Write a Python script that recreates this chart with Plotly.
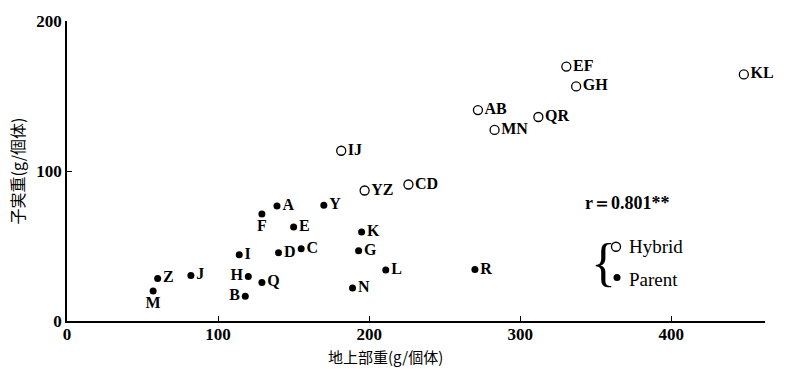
import plotly.graph_objects as go

# Hybrid (open circles)
hyb_labels = ["EF", "GH", "KL", "AB", "QR", "MN", "IJ", "YZ", "CD"]
hyb_x = [330.5, 337, 448, 272, 312, 283, 181.5, 197, 226]
hyb_y = [169.6, 156.4, 164.4, 140.6, 136, 127.4, 113.5, 87, 91]

# Parent (filled circles)
par_labels = ["A", "Y", "F", "E", "K", "I", "D", "C", "G", "H", "Q", "B", "Z", "J", "M", "L", "N", "R"]
par_x = [139, 170, 129, 150, 195, 114, 140, 155, 193, 120, 129, 118, 60, 82, 57, 211, 189, 270]
par_y = [76.6, 77.2, 71.3, 62.7, 59.4, 44.2, 45.5, 48.2, 46.9, 29.7, 25.7, 16.5, 28.4, 30.4, 20, 34, 22, 34.3]
par_pos = ["middle right", "middle right", "bottom center", "middle right", "middle right",
           "middle right", "middle right", "middle right", "middle right", "middle left",
           "middle right", "middle left", "middle right", "middle right", "bottom center",
           "middle right", "middle right", "middle right"]

x_ticks = [0, 100, 200, 300, 400]
y_ticks = [0, 100, 200]

serif = "Liberation Serif"
cjk = "Noto Sans CJK JP"

fig = go.Figure()
fig.add_trace(go.Scatter(
    x=hyb_x, y=hyb_y, mode="markers+text", text=hyb_labels, textposition="middle right",
    marker=dict(symbol="circle-open", size=9, color="black", line=dict(width=1.3)),
    textfont=dict(family=serif, size=16, color="black", weight="bold"),
    showlegend=False, cliponaxis=False))
fig.add_trace(go.Scatter(
    x=par_x, y=par_y, mode="markers+text", text=par_labels, textposition=par_pos,
    marker=dict(symbol="circle", size=7, color="black"),
    textfont=dict(family=serif, size=16, color="black", weight="bold"),
    showlegend=False, cliponaxis=False))

L, R, T, B = 67, 22, 18, 48
W, H = 787, 369
pw, ph = W - L - R, H - T - B


def px(x):
    return (x - L) / pw


def py(y):
    return (H - B - y) / ph


ann = [
    dict(x=px(385), y=py(357), text="地上部重(g/個体)", font=dict(family=cjk, size=15)),
    dict(x=px(583), y=py(202), text="r＝0.801**", xanchor="left",
         font=dict(family=serif, size=18, weight="bold")),
    dict(x=px(627), y=py(246), text="Hybrid", xanchor="left", font=dict(family=serif, size=19)),
    dict(x=px(627), y=py(279), text="Parent", xanchor="left", font=dict(family=serif, size=19)),
    dict(x=px(603), y=py(262), text="{", font=dict(family=serif, size=52)),
]
for a in ann:
    a.update(xref="paper", yref="paper", showarrow=False)
    a.setdefault("xanchor", "center")
    a["yanchor"] = "middle"
    a["font"].setdefault("color", "black")

shapes = [
    dict(type="circle", xref="paper", yref="paper", xsizemode="pixel", ysizemode="pixel",
         xanchor=px(616), yanchor=py(246), x0=-4.5, x1=4.5, y0=-4.5, y1=4.5,
         line=dict(color="black", width=1.3), fillcolor="white"),
    dict(type="circle", xref="paper", yref="paper", xsizemode="pixel", ysizemode="pixel",
         xanchor=px(617), yanchor=py(277), x0=-3.5, x1=3.5, y0=-3.5, y1=3.5,
         line=dict(color="black", width=0), fillcolor="black"),
]

fig.update_layout(
    width=W, height=H, margin=dict(l=L, r=R, t=T, b=B),
    paper_bgcolor="white", plot_bgcolor="white",
    annotations=ann, shapes=shapes,
    xaxis=dict(range=[0, 462], tickvals=x_ticks, ticks="inside", ticklen=5, tickwidth=1.3,
               tickcolor="black", showline=True, linecolor="black", linewidth=1.5,
               showgrid=False, zeroline=False, ticklabelstandoff=-3,
               tickfont=dict(family=serif, size=17, color="black", weight="bold")),
    yaxis=dict(range=[0, 200], tickvals=y_ticks, ticks="inside", ticklen=5, tickwidth=1.3,
               tickcolor="black", showline=True, linecolor="black", linewidth=1.5,
               showgrid=False, zeroline=False,
               tickfont=dict(family=serif, size=17, color="black", weight="bold"),
               title=dict(text="子実重(g/個体)", font=dict(family=cjk, size=16, color="black"),
                          standoff=8)),
)

fig.write_html("out.html")
